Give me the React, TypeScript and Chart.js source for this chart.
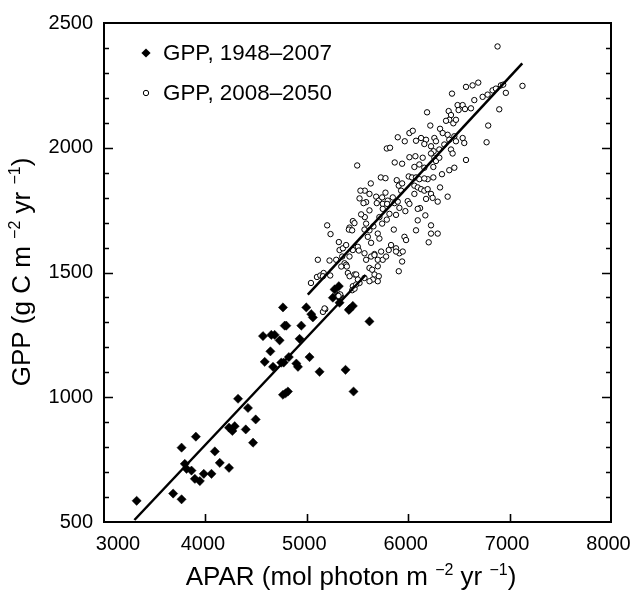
import React, { useEffect, useRef } from 'react';
import { Chart, registerables } from 'chart.js';

Chart.register(...registerables);

const FONT = '"Liberation Sans", Arial, Helvetica, sans-serif';

// Axis ranges / tick labels
const xMin = 3000;
const xMax = 8000;
const xStep = 1000;
const yMin = 500;
const yMax = 2500;
const yStep = 500;
const yMinorStep = 100;

// Legend labels
const seriesLabels = ['GPP, 1948–2007', 'GPP, 2008–2050'];

// GPP 1948–2007 (filled diamonds)
const histX = [3322,3682,3765,3765,3906,3797,3814,3863,3896,3945,3984,4060,4093,4142,4233,4322,4233,4266,4289,4420,4398,4496,4470,4568,4585,4641,4667,4650,4683,4732,4765,4782,4798,4772,4765,4791,4814,4897,4913,4929,4946,4995,5044,5060,5027,5126,5382,5461,5415,5454,5618,5323,5316,5274,5306,5257,5323,4748,4823,5421];
const histY = [585,614,591,798,842,733,713,706,673,664,693,693,783,737,717,994,878,865,884,957,871,911,818,1245,1142,1184,1122,1250,1250,1228,1360,1287,1287,1139,1010,1016,1023,1135,1122,1234,1287,1360,1333,1320,1161,1102,1110,1023,1350,1366,1304,1406,1445,1432,1406,1399,1379,1139,1161,1353];

// GPP 2008–2050 (open circles)
const futX = [
  6881,7127,6963,6898,6789,6773,6570,6635,6691,6432,
  6487,6537,6497,6560,6619,6652,6734,6783,6832,6865,
  6914,6937,6186,6399,6422,6405,6373,6445,6471,6218,
  6314,6340,6389,6455,6537,6553,6471,6405,6356,6307,
  6258,6274,5897,6012,6045,5966,5789,5821,5867,5940,
  6077,6127,6176,6159,6225,6251,6012,6071,6061,6110,
  6159,6143,6225,6258,6274,6307,6248,6422,6438,6570,
  6455,6405,6333,6389,5497,5730,5776,5631,5572,5520,
  5585,5618,5684,5710,5743,5776,5798,5749,5887,5907,
  5940,6005,6038,6077,6110,6061,6094,6127,6159,6192,
  6225,6241,6291,6176,6192,6248,6314,6159,5848,5864,
  5897,5930,5995,6012,5972,5913,5880,6061,6117,6094,
  6077,5963,5880,5913,5858,5792,5815,5789,5743,5716,
  5749,5690,5618,5572,5536,5585,5618,5657,5569,5602,
  5700,5716,5634,5667,5733,5529,5559,5454,5470,5421,
  5415,5447,5316,5323,5356,5388,5421,5454,5503,5201,
  5234,5109,5224,5290,5349,5372,5388,5513,5569,5585,
  5634,5667,5700,5749,5782,5808,5831,5880,5946,5940,
  6225,6225,6291,6202,6169,6094,5979,
  5340,5395,5405,5422,5471,5487,5618,5645,5668,5700,
  5710,5700,5651,5618,5569,5520,5041,5100,5133,5166,
  5159,5231,5454,5448,5471,5330,5182,5159,5487,5504,
  5907,5175,5313
];
const futY = [
  2406,2248,2220,2154,2089,2022,2244,2250,2261,2217,
  2171,2171,2151,2155,2158,2191,2204,2213,2230,2237,
  2250,2253,2142,2147,2131,2112,2108,2098,2112,2089,
  2076,2059,2052,2046,2039,2019,2026,2032,2013,1993,
  2039,2026,2042,2059,2068,2026,1997,2000,1941,1936,
  2028,2039,2032,2015,2006,1986,1962,1966,1923,1933,
  1920,1960,1977,1960,1947,1960,1923,1993,1977,1951,
  1920,1910,1894,1804,1929,1881,1878,1857,1828,1797,
  1782,1815,1804,1788,1801,1820,1788,1775,1870,1848,
  1857,1885,1881,1881,1874,1848,1841,1834,1828,1834,
  1815,1799,1784,1795,1874,1881,1841,1877,1801,1778,
  1784,1828,1786,1775,1746,1759,1731,1815,1758,1709,
  1669,1643,1597,1577,1672,1775,1735,1712,1696,1722,
  1755,1778,1749,1722,1733,1696,1669,1685,1672,1643,
  1656,1636,1619,1574,1584,1828,1778,1706,1698,1680,
  1672,1669,1622,1590,1597,1610,1564,1590,1603,1689,
  1654,1551,1548,1551,1564,1537,1531,1588,1577,1551,
  1564,1570,1551,1551,1564,1590,1610,1584,1584,1544,
  1689,1656,1656,1621,1729,1755,1630,
  1524,1524,1498,1485,1492,1492,1518,1511,1492,1525,
  1485,1465,1472,1465,1478,1458,1458,1482,1488,1498,
  1485,1488,1445,1429,1435,1412,1353,1342,1452,1472,
  1505,1356,1406
];

// Regression line end points
const histFitX = [3300, 5580];
const histFitY = [508, 1490];
const futFitX = [5010, 7125];
const futFitY = [1411, 2338];

const toPts = (xs: number[], ys: number[]) => xs.map((x, i) => ({ x, y: ys[i] }));

type Part = { t: string; sup?: boolean };

function drawRich(ctx: CanvasRenderingContext2D, parts: Part[], cx: number, baseline: number, size: number, supSize: number, raise: number) {
  const widths = parts.map((p) => {
    ctx.font = `${p.sup ? supSize : size}px ${FONT}`;
    return ctx.measureText(p.t).width;
  });
  const total = widths.reduce((a, b) => a + b, 0);
  let x = cx - total / 2;
  ctx.textAlign = 'left';
  ctx.textBaseline = 'alphabetic';
  ctx.fillStyle = '#000';
  parts.forEach((p, i) => {
    ctx.font = `${p.sup ? supSize : size}px ${FONT}`;
    ctx.fillText(p.t, x, p.sup ? baseline - raise : baseline);
    x += widths[i];
  });
}

const xTitle: Part[] = [
  { t: 'APAR (mol photon m ' },
  { t: '−2', sup: true },
  { t: ' yr ' },
  { t: '−1', sup: true },
  { t: ')' },
];
const yTitle: Part[] = [
  { t: 'GPP (g C m ' },
  { t: '−2', sup: true },
  { t: ' yr ' },
  { t: '−1', sup: true },
  { t: ')' },
];

const framePlugin = {
  id: 'frameTicks',
  beforeDatasetsDraw(chart: any) {
    const { ctx, chartArea } = chart;
    const xs = chart.scales.x;
    const ys = chart.scales.y;
    const { left, right, top, bottom } = chartArea;
    ctx.save();
    ctx.strokeStyle = '#000';
    ctx.lineWidth = 2;
    ctx.strokeRect(left, top, right - left, bottom - top);
    ctx.lineWidth = 1.6;
    ctx.beginPath();
    for (let v = yMin + yMinorStep; v < yMax; v += yMinorStep) {
      const py = Math.round(ys.getPixelForValue(v)) + 0.5;
      const len = v % yStep === 0 ? 9 : 5;
      ctx.moveTo(left, py);
      ctx.lineTo(left + len, py);
      ctx.moveTo(right, py);
      ctx.lineTo(right - len, py);
    }
    for (let v = xMin + xStep; v < xMax; v += xStep) {
      const px = Math.round(xs.getPixelForValue(v)) + 0.5;
      ctx.moveTo(px, bottom);
      ctx.lineTo(px, bottom - 8);
    }
    ctx.stroke();
    // x tick labels (first one nudged right, clear of the y labels)
    ctx.fillStyle = '#000';
    ctx.font = `20px ${FONT}`;
    ctx.textAlign = 'center';
    ctx.textBaseline = 'alphabetic';
    for (let v = xMin; v <= xMax; v += xStep) {
      const px = xs.getPixelForValue(v) + (v === xMin ? 14 : -2.5);
      ctx.fillText(String(v), px, 550);
    }
    ctx.restore();
  },
  afterDraw(chart: any) {
    const { ctx } = chart;
    ctx.save();
    // Legend
    ctx.fillStyle = '#000';
    ctx.strokeStyle = '#000';
    ctx.beginPath();
    const dx = 146, dy = 53, r = 4.6;
    ctx.moveTo(dx, dy - r);
    ctx.lineTo(dx + r, dy);
    ctx.lineTo(dx, dy + r);
    ctx.lineTo(dx - r, dy);
    ctx.closePath();
    ctx.fill();
    ctx.beginPath();
    ctx.arc(146, 93, 2.7, 0, Math.PI * 2);
    ctx.fillStyle = '#fff';
    ctx.fill();
    ctx.lineWidth = 1;
    ctx.stroke();
    ctx.fillStyle = '#000';
    ctx.font = `22.4px ${FONT}`;
    ctx.textAlign = 'left';
    ctx.textBaseline = 'alphabetic';
    ctx.fillText(seriesLabels[0], 163, 60);
    ctx.fillText(seriesLabels[1], 163, 100);
    // Axis titles
    drawRich(ctx, xTitle, 351, 585, 26, 16, 10);
    ctx.translate(30, 272);
    ctx.rotate(-Math.PI / 2);
    drawRich(ctx, yTitle, 0, 0, 26, 16, 10);
    ctx.restore();
  },
};

export default function App() {
  const ref = useRef<HTMLCanvasElement>(null);
  useEffect(() => {
    document.body.style.margin = '0';
    document.body.style.overflow = 'hidden';
    const canvas = ref.current!;
    const chart = new Chart(canvas, {
      type: 'scatter',
      data: {
        datasets: [
          {
            type: 'line',
            label: 'fit1',
            data: toPts(histFitX, histFitY),
            borderColor: '#000',
            borderWidth: 2.5,
            pointRadius: 0,
            fill: false,
            order: 0,
          } as any,
          {
            type: 'line',
            label: 'fit2',
            data: toPts(futFitX, futFitY),
            borderColor: '#000',
            borderWidth: 2.5,
            pointRadius: 0,
            fill: false,
            order: 0,
          } as any,
          {
            label: seriesLabels[0],
            data: toPts(histX, histY),
            pointStyle: 'rectRot',
            pointRadius: 4.6,
            backgroundColor: '#000',
            borderColor: '#000',
            borderWidth: 0.5,
            order: 2,
          },
          {
            label: seriesLabels[1],
            data: toPts(futX, futY),
            pointStyle: 'circle',
            pointRadius: 2.7,
            backgroundColor: '#fff',
            borderColor: '#000',
            borderWidth: 1,
            order: 1,
          },
        ],
      },
      options: {
        responsive: false,
        animation: false,
        devicePixelRatio: 1,
        layout: { padding: { left: 0, right: 22, top: 17, bottom: 0 } },
        plugins: { legend: { display: false }, tooltip: { enabled: false } },
        scales: {
          x: {
            type: 'linear',
            min: xMin,
            max: xMax,
            grid: { display: false, drawTicks: false, tickLength: 0 },
            border: { display: false },
            ticks: { display: false, stepSize: xStep },
            afterFit: (s: any) => { s.height = 68; },
          },
          y: {
            type: 'linear',
            min: yMin,
            max: yMax,
            grid: { display: false, drawTicks: false, tickLength: 0 },
            border: { display: false },
            ticks: {
              stepSize: yStep,
              color: '#000',
              padding: 11,
              font: { family: FONT, size: 20 },
              callback: (v: any) => String(v),
            },
            afterFit: (s: any) => { s.width = 104; },
          },
        },
      },
      plugins: [framePlugin],
    });
    return () => chart.destroy();
  }, []);
  return (
    <div style={{ width: 633, height: 590 }}>
      <canvas ref={ref} width={633} height={590} style={{ display: 'block' }} />
    </div>
  );
}
